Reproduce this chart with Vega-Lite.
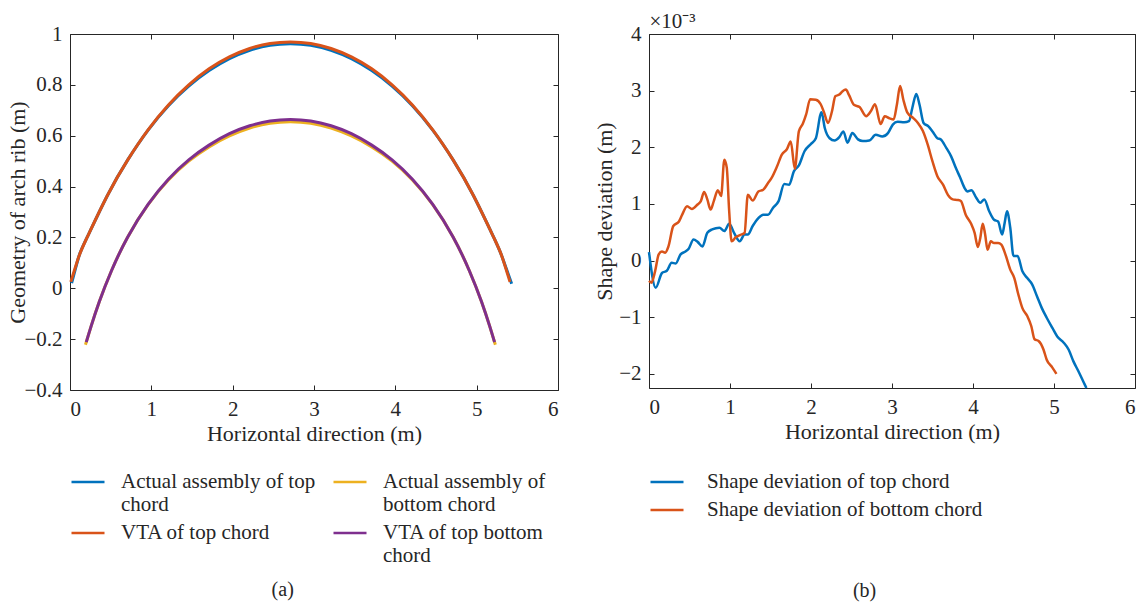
{
  "$schema": "https://vega.github.io/schema/vega-lite/v6.json",
  "background": "white",
  "padding": {"left": 6, "top": 10, "right": 5, "bottom": 5},
  "bounds": "flush",
  "spacing": 91,
  "config": {
    "view": {"stroke": "#262626", "strokeWidth": 1},
    "font": "Liberation Serif",
    "axis": {
      "grid": false,
      "domain": false,
      "offset": -5,
      "tickColor": "#262626",
      "tickSize": 5,
      "labelPadding": 8,
      "labelFont": "Liberation Serif",
      "labelFontSize": 21,
      "labelColor": "#262626",
      "titleFont": "Liberation Serif",
      "titleFontSize": 22,
      "titleFontWeight": "normal",
      "titleColor": "#262626"
    },
    "legend": {
      "labelFont": "Liberation Serif",
      "labelFontSize": 21,
      "labelColor": "#262626",
      "labelLimit": 400,
      "symbolType": "stroke",
      "symbolSize": 1089,
      "symbolStrokeWidth": 2.5,
      "title": null
    },
    "title": {"font": "Liberation Serif", "fontSize": 20, "fontWeight": "normal", "color": "#262626"}
  },
  "resolve": {"scale": {"color": "independent"}, "legend": {"color": "independent"}},
  "hconcat": [
    {
      "width": 488,
      "height": 356,
      "view": {"stroke": "#262626", "strokeWidth": 1},
      "title": {"text": "(a)", "orient": "bottom", "anchor": "middle", "frame": "bounds", "offset": 14},
      "data": {"values": [
        {"x": 0.02, "y": 0.02, "series": "Actual assembly of top chord"},
        {"x": 0.11, "y": 0.126, "series": "Actual assembly of top chord"},
        {"x": 0.21, "y": 0.2, "series": "Actual assembly of top chord"},
        {"x": 0.46, "y": 0.365, "series": "Actual assembly of top chord"},
        {"x": 0.71, "y": 0.505, "series": "Actual assembly of top chord"},
        {"x": 0.96, "y": 0.622, "series": "Actual assembly of top chord"},
        {"x": 1.21, "y": 0.718, "series": "Actual assembly of top chord"},
        {"x": 1.46, "y": 0.795, "series": "Actual assembly of top chord"},
        {"x": 1.71, "y": 0.856, "series": "Actual assembly of top chord"},
        {"x": 1.96, "y": 0.903, "series": "Actual assembly of top chord"},
        {"x": 2.21, "y": 0.936, "series": "Actual assembly of top chord"},
        {"x": 2.46, "y": 0.956, "series": "Actual assembly of top chord"},
        {"x": 2.71, "y": 0.962, "series": "Actual assembly of top chord"},
        {"x": 2.96, "y": 0.956, "series": "Actual assembly of top chord"},
        {"x": 3.21, "y": 0.936, "series": "Actual assembly of top chord"},
        {"x": 3.46, "y": 0.903, "series": "Actual assembly of top chord"},
        {"x": 3.71, "y": 0.856, "series": "Actual assembly of top chord"},
        {"x": 3.96, "y": 0.795, "series": "Actual assembly of top chord"},
        {"x": 4.21, "y": 0.718, "series": "Actual assembly of top chord"},
        {"x": 4.46, "y": 0.622, "series": "Actual assembly of top chord"},
        {"x": 4.71, "y": 0.505, "series": "Actual assembly of top chord"},
        {"x": 4.96, "y": 0.365, "series": "Actual assembly of top chord"},
        {"x": 5.21, "y": 0.2, "series": "Actual assembly of top chord"},
        {"x": 5.31, "y": 0.126, "series": "Actual assembly of top chord"},
        {"x": 5.43, "y": 0.018, "series": "Actual assembly of top chord"},

        {"x": 0.19, "y": -0.222, "series": "Actual assembly of bottom chord"},
        {"x": 0.26, "y": -0.149, "series": "Actual assembly of bottom chord"},
        {"x": 0.36, "y": -0.053, "series": "Actual assembly of bottom chord"},
        {"x": 0.51, "y": 0.069, "series": "Actual assembly of bottom chord"},
        {"x": 0.71, "y": 0.202, "series": "Actual assembly of bottom chord"},
        {"x": 0.96, "y": 0.329, "series": "Actual assembly of bottom chord"},
        {"x": 1.21, "y": 0.426, "series": "Actual assembly of bottom chord"},
        {"x": 1.46, "y": 0.5, "series": "Actual assembly of bottom chord"},
        {"x": 1.71, "y": 0.556, "series": "Actual assembly of bottom chord"},
        {"x": 1.96, "y": 0.599, "series": "Actual assembly of bottom chord"},
        {"x": 2.21, "y": 0.63, "series": "Actual assembly of bottom chord"},
        {"x": 2.46, "y": 0.649, "series": "Actual assembly of bottom chord"},
        {"x": 2.71, "y": 0.655, "series": "Actual assembly of bottom chord"},
        {"x": 2.96, "y": 0.649, "series": "Actual assembly of bottom chord"},
        {"x": 3.21, "y": 0.63, "series": "Actual assembly of bottom chord"},
        {"x": 3.46, "y": 0.599, "series": "Actual assembly of bottom chord"},
        {"x": 3.71, "y": 0.556, "series": "Actual assembly of bottom chord"},
        {"x": 3.96, "y": 0.5, "series": "Actual assembly of bottom chord"},
        {"x": 4.21, "y": 0.426, "series": "Actual assembly of bottom chord"},
        {"x": 4.46, "y": 0.329, "series": "Actual assembly of bottom chord"},
        {"x": 4.71, "y": 0.202, "series": "Actual assembly of bottom chord"},
        {"x": 4.91, "y": 0.069, "series": "Actual assembly of bottom chord"},
        {"x": 5.06, "y": -0.053, "series": "Actual assembly of bottom chord"},
        {"x": 5.16, "y": -0.149, "series": "Actual assembly of bottom chord"},
        {"x": 5.23, "y": -0.222, "series": "Actual assembly of bottom chord"},

        {"x": 0.01, "y": 0.025, "series": "VTA of top chord"},
        {"x": 0.11, "y": 0.126, "series": "VTA of top chord"},
        {"x": 0.21, "y": 0.2, "series": "VTA of top chord"},
        {"x": 0.46, "y": 0.365, "series": "VTA of top chord"},
        {"x": 0.71, "y": 0.505, "series": "VTA of top chord"},
        {"x": 0.96, "y": 0.623, "series": "VTA of top chord"},
        {"x": 1.21, "y": 0.721, "series": "VTA of top chord"},
        {"x": 1.46, "y": 0.8, "series": "VTA of top chord"},
        {"x": 1.71, "y": 0.863, "series": "VTA of top chord"},
        {"x": 1.96, "y": 0.91, "series": "VTA of top chord"},
        {"x": 2.21, "y": 0.943, "series": "VTA of top chord"},
        {"x": 2.46, "y": 0.963, "series": "VTA of top chord"},
        {"x": 2.71, "y": 0.969, "series": "VTA of top chord"},
        {"x": 2.96, "y": 0.963, "series": "VTA of top chord"},
        {"x": 3.21, "y": 0.943, "series": "VTA of top chord"},
        {"x": 3.46, "y": 0.91, "series": "VTA of top chord"},
        {"x": 3.71, "y": 0.863, "series": "VTA of top chord"},
        {"x": 3.96, "y": 0.8, "series": "VTA of top chord"},
        {"x": 4.21, "y": 0.721, "series": "VTA of top chord"},
        {"x": 4.46, "y": 0.623, "series": "VTA of top chord"},
        {"x": 4.71, "y": 0.505, "series": "VTA of top chord"},
        {"x": 4.96, "y": 0.365, "series": "VTA of top chord"},
        {"x": 5.21, "y": 0.2, "series": "VTA of top chord"},
        {"x": 5.31, "y": 0.126, "series": "VTA of top chord"},
        {"x": 5.41, "y": 0.025, "series": "VTA of top chord"},

        {"x": 0.2, "y": -0.212, "series": "VTA of top bottom chord"},
        {"x": 0.26, "y": -0.149, "series": "VTA of top bottom chord"},
        {"x": 0.36, "y": -0.053, "series": "VTA of top bottom chord"},
        {"x": 0.51, "y": 0.069, "series": "VTA of top bottom chord"},
        {"x": 0.71, "y": 0.202, "series": "VTA of top bottom chord"},
        {"x": 0.96, "y": 0.33, "series": "VTA of top bottom chord"},
        {"x": 1.21, "y": 0.429, "series": "VTA of top bottom chord"},
        {"x": 1.46, "y": 0.505, "series": "VTA of top bottom chord"},
        {"x": 1.71, "y": 0.563, "series": "VTA of top bottom chord"},
        {"x": 1.96, "y": 0.608, "series": "VTA of top bottom chord"},
        {"x": 2.21, "y": 0.639, "series": "VTA of top bottom chord"},
        {"x": 2.46, "y": 0.658, "series": "VTA of top bottom chord"},
        {"x": 2.71, "y": 0.664, "series": "VTA of top bottom chord"},
        {"x": 2.96, "y": 0.658, "series": "VTA of top bottom chord"},
        {"x": 3.21, "y": 0.639, "series": "VTA of top bottom chord"},
        {"x": 3.46, "y": 0.608, "series": "VTA of top bottom chord"},
        {"x": 3.71, "y": 0.563, "series": "VTA of top bottom chord"},
        {"x": 3.96, "y": 0.505, "series": "VTA of top bottom chord"},
        {"x": 4.21, "y": 0.429, "series": "VTA of top bottom chord"},
        {"x": 4.46, "y": 0.33, "series": "VTA of top bottom chord"},
        {"x": 4.71, "y": 0.202, "series": "VTA of top bottom chord"},
        {"x": 4.91, "y": 0.069, "series": "VTA of top bottom chord"},
        {"x": 5.06, "y": -0.053, "series": "VTA of top bottom chord"},
        {"x": 5.16, "y": -0.149, "series": "VTA of top bottom chord"},
        {"x": 5.22, "y": -0.212, "series": "VTA of top bottom chord"}
      ]},
      "layer": [
        {
          "mark": {"type": "line", "strokeWidth": 3, "interpolate": "natural"},
          "encoding": {
            "x": {"field": "x", "type": "quantitative", "scale": {"domain": [0, 6], "nice": false},
                  "axis": {"values": [0, 1, 2, 3, 4, 5, 6], "title": "Horizontal direction (m)", "titlePadding": 4}},
            "y": {"field": "y", "type": "quantitative", "scale": {"domain": [-0.4, 1], "nice": false, "zero": false},
                  "axis": {"values": [-0.4, -0.2, 0, 0.2, 0.4, 0.6, 0.8, 1], "format": "~g", "title": "Geometry of arch rib (m)", "titlePadding": -6}},
            "color": {"field": "series", "type": "nominal",
                      "scale": {"domain": ["Actual assembly of top chord", "Actual assembly of bottom chord", "VTA of top chord", "VTA of top bottom chord"],
                                "range": ["#0072BD", "#EDB120", "#D95319", "#7E2F8E"]},
                      "legend": {"orient": "bottom", "direction": "horizontal", "columns": 2, "offset": 20,
                                 "columnPadding": 12, "rowPadding": -4, "labelOffset": 15,
                                 "labelExpr": "datum.label == 'Actual assembly of top chord' ? ['Actual assembly of top', 'chord'] : datum.label == 'Actual assembly of bottom chord' ? ['Actual assembly of', 'bottom chord'] : datum.label == 'VTA of top bottom chord' ? ['VTA of top bottom', 'chord'] : datum.label"}}
          }
        },
        {
          "mark": {"type": "line", "opacity": 0},
          "encoding": {
            "x": {"field": "x", "type": "quantitative", "scale": {"domain": [0, 6], "nice": false},
                  "axis": {"orient": "top", "values": [0, 1, 2, 3, 4, 5, 6], "labels": false, "title": null}},
            "y": {"field": "y", "type": "quantitative", "scale": {"domain": [-0.4, 1], "nice": false, "zero": false},
                  "axis": {"orient": "right", "values": [-0.4, -0.2, 0, 0.2, 0.4, 0.6, 0.8, 1], "labels": false, "title": null}}
          }
        }
      ],
      "resolve": {"axis": {"x": "independent", "y": "independent"}}
    },
    {
      "width": 486,
      "height": 354,
      "view": {"stroke": "#262626", "strokeWidth": 1},
      "title": {"text": "(b)", "orient": "bottom", "anchor": "middle", "frame": "bounds", "offset": 61},
      "data": {"values": [
        {"x": 0, "dev": 0.15, "series": "Shape deviation of top chord"},
        {"x": 0.083, "dev": -0.48, "series": "Shape deviation of top chord"},
        {"x": 0.16, "dev": -0.22, "series": "Shape deviation of top chord"},
        {"x": 0.22, "dev": -0.18, "series": "Shape deviation of top chord"},
        {"x": 0.28, "dev": -0.04, "series": "Shape deviation of top chord"},
        {"x": 0.33, "dev": -0.05, "series": "Shape deviation of top chord"},
        {"x": 0.39, "dev": 0.11, "series": "Shape deviation of top chord"},
        {"x": 0.45, "dev": 0.16, "series": "Shape deviation of top chord"},
        {"x": 0.49, "dev": 0.21, "series": "Shape deviation of top chord"},
        {"x": 0.55, "dev": 0.37, "series": "Shape deviation of top chord"},
        {"x": 0.6, "dev": 0.33, "series": "Shape deviation of top chord"},
        {"x": 0.66, "dev": 0.25, "series": "Shape deviation of top chord"},
        {"x": 0.72, "dev": 0.49, "series": "Shape deviation of top chord"},
        {"x": 0.78, "dev": 0.55, "series": "Shape deviation of top chord"},
        {"x": 0.87, "dev": 0.58, "series": "Shape deviation of top chord"},
        {"x": 0.93, "dev": 0.52, "series": "Shape deviation of top chord"},
        {"x": 0.99, "dev": 0.65, "series": "Shape deviation of top chord"},
        {"x": 1.05, "dev": 0.49, "series": "Shape deviation of top chord"},
        {"x": 1.12, "dev": 0.34, "series": "Shape deviation of top chord"},
        {"x": 1.18, "dev": 0.46, "series": "Shape deviation of top chord"},
        {"x": 1.22, "dev": 0.46, "series": "Shape deviation of top chord"},
        {"x": 1.28, "dev": 0.61, "series": "Shape deviation of top chord"},
        {"x": 1.35, "dev": 0.75, "series": "Shape deviation of top chord"},
        {"x": 1.41, "dev": 0.81, "series": "Shape deviation of top chord"},
        {"x": 1.47, "dev": 0.81, "series": "Shape deviation of top chord"},
        {"x": 1.53, "dev": 0.93, "series": "Shape deviation of top chord"},
        {"x": 1.6, "dev": 1.05, "series": "Shape deviation of top chord"},
        {"x": 1.67, "dev": 1.35, "series": "Shape deviation of top chord"},
        {"x": 1.73, "dev": 1.34, "series": "Shape deviation of top chord"},
        {"x": 1.79, "dev": 1.58, "series": "Shape deviation of top chord"},
        {"x": 1.85, "dev": 1.68, "series": "Shape deviation of top chord"},
        {"x": 1.92, "dev": 1.93, "series": "Shape deviation of top chord"},
        {"x": 2.0, "dev": 2.06, "series": "Shape deviation of top chord"},
        {"x": 2.06, "dev": 2.16, "series": "Shape deviation of top chord"},
        {"x": 2.13, "dev": 2.62, "series": "Shape deviation of top chord"},
        {"x": 2.17, "dev": 2.34, "series": "Shape deviation of top chord"},
        {"x": 2.23, "dev": 2.16, "series": "Shape deviation of top chord"},
        {"x": 2.29, "dev": 2.12, "series": "Shape deviation of top chord"},
        {"x": 2.35, "dev": 2.18, "series": "Shape deviation of top chord"},
        {"x": 2.4, "dev": 2.28, "series": "Shape deviation of top chord"},
        {"x": 2.45, "dev": 2.08, "series": "Shape deviation of top chord"},
        {"x": 2.51, "dev": 2.25, "series": "Shape deviation of top chord"},
        {"x": 2.58, "dev": 2.14, "series": "Shape deviation of top chord"},
        {"x": 2.64, "dev": 2.11, "series": "Shape deviation of top chord"},
        {"x": 2.72, "dev": 2.12, "series": "Shape deviation of top chord"},
        {"x": 2.8, "dev": 2.22, "series": "Shape deviation of top chord"},
        {"x": 2.88, "dev": 2.19, "series": "Shape deviation of top chord"},
        {"x": 2.95, "dev": 2.25, "series": "Shape deviation of top chord"},
        {"x": 3.01, "dev": 2.4, "series": "Shape deviation of top chord"},
        {"x": 3.07, "dev": 2.45, "series": "Shape deviation of top chord"},
        {"x": 3.15, "dev": 2.44, "series": "Shape deviation of top chord"},
        {"x": 3.21, "dev": 2.46, "series": "Shape deviation of top chord"},
        {"x": 3.25, "dev": 2.69, "series": "Shape deviation of top chord"},
        {"x": 3.3, "dev": 2.94, "series": "Shape deviation of top chord"},
        {"x": 3.34, "dev": 2.75, "series": "Shape deviation of top chord"},
        {"x": 3.39, "dev": 2.43, "series": "Shape deviation of top chord"},
        {"x": 3.45, "dev": 2.37, "series": "Shape deviation of top chord"},
        {"x": 3.5, "dev": 2.28, "series": "Shape deviation of top chord"},
        {"x": 3.56, "dev": 2.16, "series": "Shape deviation of top chord"},
        {"x": 3.6, "dev": 2.14, "series": "Shape deviation of top chord"},
        {"x": 3.67, "dev": 1.99, "series": "Shape deviation of top chord"},
        {"x": 3.73, "dev": 1.84, "series": "Shape deviation of top chord"},
        {"x": 3.79, "dev": 1.63, "series": "Shape deviation of top chord"},
        {"x": 3.84, "dev": 1.47, "series": "Shape deviation of top chord"},
        {"x": 3.9, "dev": 1.27, "series": "Shape deviation of top chord"},
        {"x": 3.93, "dev": 1.22, "series": "Shape deviation of top chord"},
        {"x": 3.98, "dev": 1.24, "series": "Shape deviation of top chord"},
        {"x": 4.04, "dev": 1.11, "series": "Shape deviation of top chord"},
        {"x": 4.09, "dev": 1.02, "series": "Shape deviation of top chord"},
        {"x": 4.14, "dev": 1.08, "series": "Shape deviation of top chord"},
        {"x": 4.2, "dev": 0.87, "series": "Shape deviation of top chord"},
        {"x": 4.26, "dev": 0.72, "series": "Shape deviation of top chord"},
        {"x": 4.31, "dev": 0.69, "series": "Shape deviation of top chord"},
        {"x": 4.36, "dev": 0.46, "series": "Shape deviation of top chord"},
        {"x": 4.39, "dev": 0.66, "series": "Shape deviation of top chord"},
        {"x": 4.42, "dev": 0.87, "series": "Shape deviation of top chord"},
        {"x": 4.46, "dev": 0.58, "series": "Shape deviation of top chord"},
        {"x": 4.5, "dev": 0.08, "series": "Shape deviation of top chord"},
        {"x": 4.55, "dev": 0.08, "series": "Shape deviation of top chord"},
        {"x": 4.61, "dev": -0.19, "series": "Shape deviation of top chord"},
        {"x": 4.67, "dev": -0.31, "series": "Shape deviation of top chord"},
        {"x": 4.73, "dev": -0.42, "series": "Shape deviation of top chord"},
        {"x": 4.79, "dev": -0.63, "series": "Shape deviation of top chord"},
        {"x": 4.85, "dev": -0.84, "series": "Shape deviation of top chord"},
        {"x": 4.91, "dev": -1.01, "series": "Shape deviation of top chord"},
        {"x": 4.98, "dev": -1.19, "series": "Shape deviation of top chord"},
        {"x": 5.04, "dev": -1.34, "series": "Shape deviation of top chord"},
        {"x": 5.12, "dev": -1.45, "series": "Shape deviation of top chord"},
        {"x": 5.18, "dev": -1.57, "series": "Shape deviation of top chord"},
        {"x": 5.24, "dev": -1.78, "series": "Shape deviation of top chord"},
        {"x": 5.3, "dev": -1.95, "series": "Shape deviation of top chord"},
        {"x": 5.36, "dev": -2.13, "series": "Shape deviation of top chord"},
        {"x": 5.4, "dev": -2.25, "series": "Shape deviation of top chord"},

        {"x": 0, "dev": -0.36, "series": "Shape deviation of bottom chord"},
        {"x": 0.03, "dev": -0.39, "series": "Shape deviation of bottom chord"},
        {"x": 0.075, "dev": -0.19, "series": "Shape deviation of bottom chord"},
        {"x": 0.12, "dev": 0.11, "series": "Shape deviation of bottom chord"},
        {"x": 0.16, "dev": 0.16, "series": "Shape deviation of bottom chord"},
        {"x": 0.2, "dev": 0.14, "series": "Shape deviation of bottom chord"},
        {"x": 0.24, "dev": 0.25, "series": "Shape deviation of bottom chord"},
        {"x": 0.3, "dev": 0.61, "series": "Shape deviation of bottom chord"},
        {"x": 0.37, "dev": 0.69, "series": "Shape deviation of bottom chord"},
        {"x": 0.41, "dev": 0.81, "series": "Shape deviation of bottom chord"},
        {"x": 0.47, "dev": 0.96, "series": "Shape deviation of bottom chord"},
        {"x": 0.53, "dev": 0.91, "series": "Shape deviation of bottom chord"},
        {"x": 0.6, "dev": 0.99, "series": "Shape deviation of bottom chord"},
        {"x": 0.64, "dev": 1.05, "series": "Shape deviation of bottom chord"},
        {"x": 0.68, "dev": 1.21, "series": "Shape deviation of bottom chord"},
        {"x": 0.72, "dev": 1.08, "series": "Shape deviation of bottom chord"},
        {"x": 0.76, "dev": 0.9, "series": "Shape deviation of bottom chord"},
        {"x": 0.8, "dev": 1.05, "series": "Shape deviation of bottom chord"},
        {"x": 0.85, "dev": 1.24, "series": "Shape deviation of bottom chord"},
        {"x": 0.89, "dev": 1.14, "series": "Shape deviation of bottom chord"},
        {"x": 0.93, "dev": 1.78, "series": "Shape deviation of bottom chord"},
        {"x": 0.96, "dev": 1.64, "series": "Shape deviation of bottom chord"},
        {"x": 0.99, "dev": 0.87, "series": "Shape deviation of bottom chord"},
        {"x": 1.02, "dev": 0.34, "series": "Shape deviation of bottom chord"},
        {"x": 1.07, "dev": 0.41, "series": "Shape deviation of bottom chord"},
        {"x": 1.14, "dev": 0.46, "series": "Shape deviation of bottom chord"},
        {"x": 1.18, "dev": 0.49, "series": "Shape deviation of bottom chord"},
        {"x": 1.22, "dev": 1.16, "series": "Shape deviation of bottom chord"},
        {"x": 1.28, "dev": 1.06, "series": "Shape deviation of bottom chord"},
        {"x": 1.35, "dev": 1.22, "series": "Shape deviation of bottom chord"},
        {"x": 1.41, "dev": 1.25, "series": "Shape deviation of bottom chord"},
        {"x": 1.47, "dev": 1.37, "series": "Shape deviation of bottom chord"},
        {"x": 1.51, "dev": 1.45, "series": "Shape deviation of bottom chord"},
        {"x": 1.58, "dev": 1.66, "series": "Shape deviation of bottom chord"},
        {"x": 1.64, "dev": 1.87, "series": "Shape deviation of bottom chord"},
        {"x": 1.7, "dev": 1.96, "series": "Shape deviation of bottom chord"},
        {"x": 1.75, "dev": 2.1, "series": "Shape deviation of bottom chord"},
        {"x": 1.8, "dev": 1.62, "series": "Shape deviation of bottom chord"},
        {"x": 1.85, "dev": 2.28, "series": "Shape deviation of bottom chord"},
        {"x": 1.9, "dev": 2.42, "series": "Shape deviation of bottom chord"},
        {"x": 1.94, "dev": 2.58, "series": "Shape deviation of bottom chord"},
        {"x": 1.99, "dev": 2.85, "series": "Shape deviation of bottom chord"},
        {"x": 2.06, "dev": 2.84, "series": "Shape deviation of bottom chord"},
        {"x": 2.12, "dev": 2.76, "series": "Shape deviation of bottom chord"},
        {"x": 2.16, "dev": 2.62, "series": "Shape deviation of bottom chord"},
        {"x": 2.21, "dev": 2.43, "series": "Shape deviation of bottom chord"},
        {"x": 2.26, "dev": 2.64, "series": "Shape deviation of bottom chord"},
        {"x": 2.3, "dev": 2.9, "series": "Shape deviation of bottom chord"},
        {"x": 2.35, "dev": 2.93, "series": "Shape deviation of bottom chord"},
        {"x": 2.39, "dev": 2.99, "series": "Shape deviation of bottom chord"},
        {"x": 2.43, "dev": 3.02, "series": "Shape deviation of bottom chord"},
        {"x": 2.47, "dev": 2.92, "series": "Shape deviation of bottom chord"},
        {"x": 2.53, "dev": 2.75, "series": "Shape deviation of bottom chord"},
        {"x": 2.6, "dev": 2.71, "series": "Shape deviation of bottom chord"},
        {"x": 2.68, "dev": 2.55, "series": "Shape deviation of bottom chord"},
        {"x": 2.74, "dev": 2.64, "series": "Shape deviation of bottom chord"},
        {"x": 2.79, "dev": 2.76, "series": "Shape deviation of bottom chord"},
        {"x": 2.86, "dev": 2.41, "series": "Shape deviation of bottom chord"},
        {"x": 2.91, "dev": 2.55, "series": "Shape deviation of bottom chord"},
        {"x": 2.97, "dev": 2.51, "series": "Shape deviation of bottom chord"},
        {"x": 3.02, "dev": 2.49, "series": "Shape deviation of bottom chord"},
        {"x": 3.06, "dev": 2.75, "series": "Shape deviation of bottom chord"},
        {"x": 3.1, "dev": 3.08, "series": "Shape deviation of bottom chord"},
        {"x": 3.14, "dev": 2.84, "series": "Shape deviation of bottom chord"},
        {"x": 3.19, "dev": 2.61, "series": "Shape deviation of bottom chord"},
        {"x": 3.26, "dev": 2.52, "series": "Shape deviation of bottom chord"},
        {"x": 3.32, "dev": 2.43, "series": "Shape deviation of bottom chord"},
        {"x": 3.38, "dev": 2.29, "series": "Shape deviation of bottom chord"},
        {"x": 3.44, "dev": 2.05, "series": "Shape deviation of bottom chord"},
        {"x": 3.5, "dev": 1.75, "series": "Shape deviation of bottom chord"},
        {"x": 3.56, "dev": 1.49, "series": "Shape deviation of bottom chord"},
        {"x": 3.63, "dev": 1.34, "series": "Shape deviation of bottom chord"},
        {"x": 3.69, "dev": 1.16, "series": "Shape deviation of bottom chord"},
        {"x": 3.75, "dev": 1.08, "series": "Shape deviation of bottom chord"},
        {"x": 3.81, "dev": 1.07, "series": "Shape deviation of bottom chord"},
        {"x": 3.85, "dev": 1.05, "series": "Shape deviation of bottom chord"},
        {"x": 3.91, "dev": 0.81, "series": "Shape deviation of bottom chord"},
        {"x": 3.98, "dev": 0.64, "series": "Shape deviation of bottom chord"},
        {"x": 4.02, "dev": 0.49, "series": "Shape deviation of bottom chord"},
        {"x": 4.06, "dev": 0.24, "series": "Shape deviation of bottom chord"},
        {"x": 4.09, "dev": 0.4, "series": "Shape deviation of bottom chord"},
        {"x": 4.12, "dev": 0.65, "series": "Shape deviation of bottom chord"},
        {"x": 4.15, "dev": 0.46, "series": "Shape deviation of bottom chord"},
        {"x": 4.18, "dev": 0.19, "series": "Shape deviation of bottom chord"},
        {"x": 4.22, "dev": 0.34, "series": "Shape deviation of bottom chord"},
        {"x": 4.26, "dev": 0.31, "series": "Shape deviation of bottom chord"},
        {"x": 4.31, "dev": 0.31, "series": "Shape deviation of bottom chord"},
        {"x": 4.35, "dev": 0.28, "series": "Shape deviation of bottom chord"},
        {"x": 4.4, "dev": 0.11, "series": "Shape deviation of bottom chord"},
        {"x": 4.46, "dev": -0.16, "series": "Shape deviation of bottom chord"},
        {"x": 4.51, "dev": -0.31, "series": "Shape deviation of bottom chord"},
        {"x": 4.56, "dev": -0.6, "series": "Shape deviation of bottom chord"},
        {"x": 4.61, "dev": -0.84, "series": "Shape deviation of bottom chord"},
        {"x": 4.67, "dev": -0.98, "series": "Shape deviation of bottom chord"},
        {"x": 4.72, "dev": -1.16, "series": "Shape deviation of bottom chord"},
        {"x": 4.76, "dev": -1.39, "series": "Shape deviation of bottom chord"},
        {"x": 4.81, "dev": -1.42, "series": "Shape deviation of bottom chord"},
        {"x": 4.87, "dev": -1.57, "series": "Shape deviation of bottom chord"},
        {"x": 4.91, "dev": -1.75, "series": "Shape deviation of bottom chord"},
        {"x": 4.98, "dev": -1.89, "series": "Shape deviation of bottom chord"},
        {"x": 5.03, "dev": -2.0, "series": "Shape deviation of bottom chord"}
      ]},
      "layer": [
        {
          "mark": {"type": "line", "strokeWidth": 2.5, "interpolate": "monotone"},
          "encoding": {
            "x": {"field": "x", "type": "quantitative", "scale": {"domain": [0, 6], "nice": false},
                  "axis": {"values": [0, 1, 2, 3, 4, 5, 6], "title": "Horizontal direction (m)", "titlePadding": 4}},
            "y": {"field": "dev", "type": "quantitative", "scale": {"domain": [-2.25, 4], "nice": false, "zero": false},
                  "axis": {"values": [-2, -1, 0, 1, 2, 3, 4], "format": "~g", "title": "Shape deviation (m)", "titlePadding": 2}},
            "color": {"field": "series", "type": "nominal",
                      "scale": {"domain": ["Shape deviation of top chord", "Shape deviation of bottom chord"],
                                "range": ["#0072BD", "#D95319"]},
                      "legend": {"orient": "bottom", "direction": "vertical", "offset": 22, "rowPadding": 0, "labelOffset": 22}}
          }
        },
        {
          "mark": {"type": "line", "opacity": 0},
          "encoding": {
            "x": {"field": "x", "type": "quantitative", "scale": {"domain": [0, 6], "nice": false},
                  "axis": {"orient": "top", "values": [0, 1, 2, 3, 4, 5, 6], "labels": false,
                           "title": "×10⁻³", "titleAnchor": "start", "titleFontSize": 21, "titlePadding": 2}},
            "y": {"field": "dev", "type": "quantitative", "scale": {"domain": [-2.25, 4], "nice": false, "zero": false},
                  "axis": {"orient": "right", "values": [-2, -1, 0, 1, 2, 3, 4], "labels": false, "title": null}}
          }
        }
      ],
      "resolve": {"axis": {"x": "independent", "y": "independent"}}
    }
  ]
}
